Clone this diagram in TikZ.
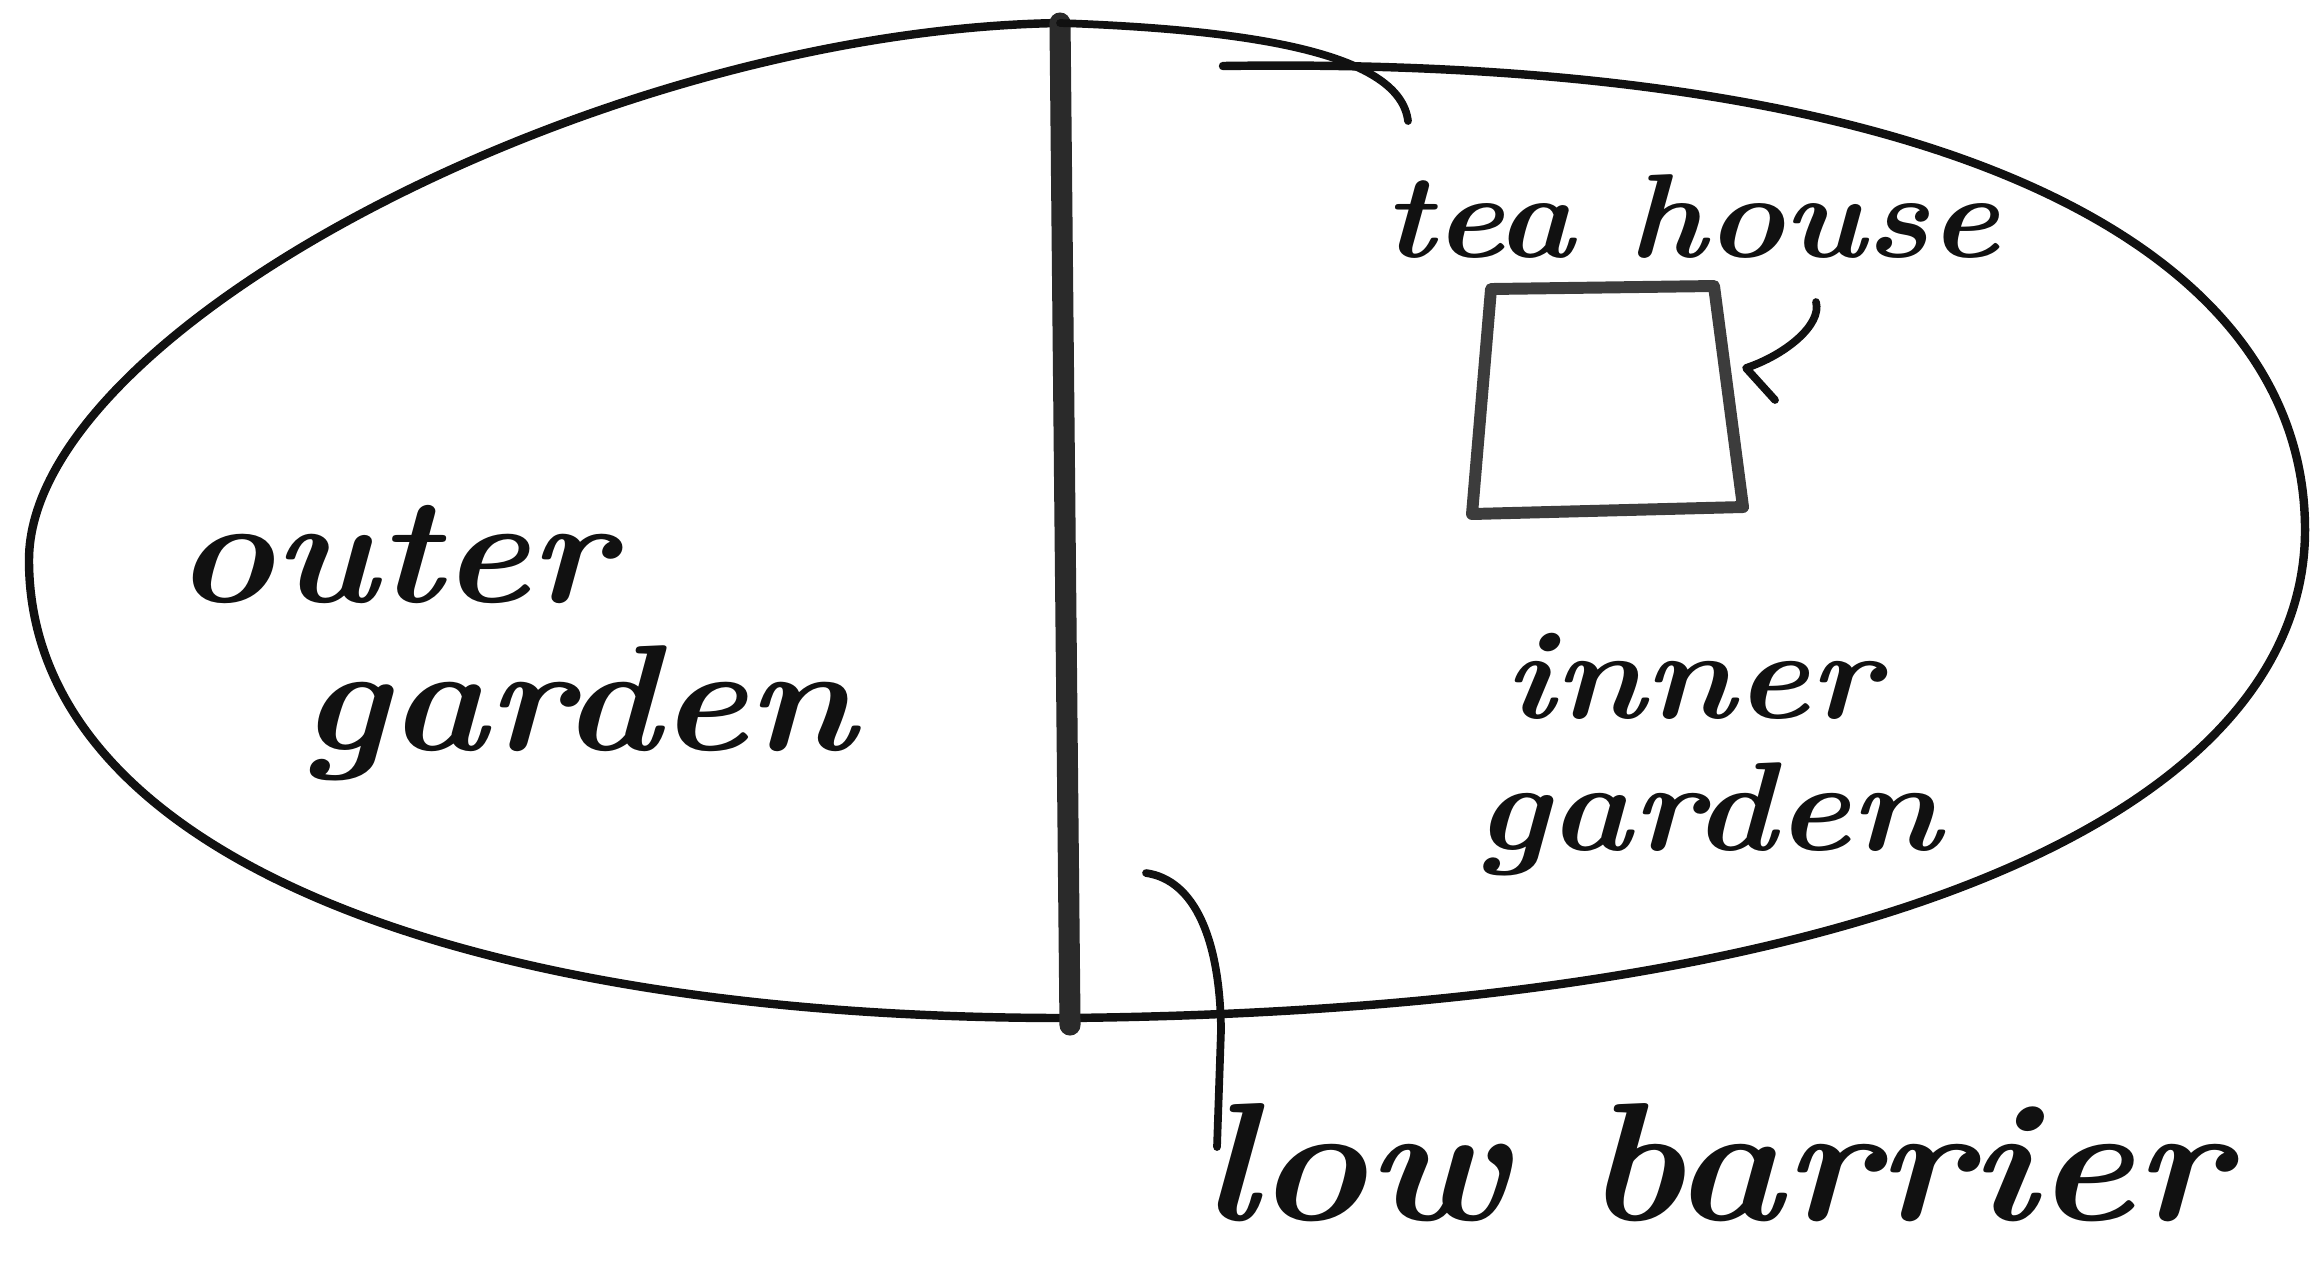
\documentclass[tikz,border=0pt]{standalone}
\usepackage{fontspec}
\usepackage{tikz}
\usepackage{graphicx}
\definecolor{pencil}{HTML}{111111}
\definecolor{barrierink}{HTML}{2A2A2A}
\definecolor{houseink}{HTML}{3C3C3C}
\newcommand{\handwrite}[2]{\scalebox{1.1}[1]{\fontsize{#1}{#1}\selectfont\bfseries\itshape #2}}
\tikzset{
  outline/.style={draw=pencil, line width=2.4pt, line cap=round},
  barrierline/.style={draw=barrierink, line width=6pt, line cap=round},
  leader/.style={draw=pencil, line width=2.2pt, line cap=round, line join=round},
  houseshape/.style={draw=houseink, line width=3.4pt, line join=round},
  handlabel/.style={inner sep=0pt, anchor=base west, text=pencil},
}

\begin{document}
\begin{tikzpicture}
    \useasboundingbox (0,0) rectangle (23.1,-12.72);
    \coordinate (bartop) at (10.60,-0.23);
    \coordinate (barbot) at (10.70,-10.25);
    \coordinate (westpt) at (0.29,-5.60);
    \coordinate (eastpt) at (23.05,-5.30);
    \coordinate (southpt) at (10.66,-10.18);
    \coordinate (northpt) at (12.23,-0.66);
    \draw[outline] (southpt) .. controls (4.50,-10.18) and (0.29,-8.50) .. (westpt)
        .. controls (0.29,-3.30) and (6.00,-0.30) .. (bartop);
    \draw[outline] (northpt) .. controls (19.5,-0.55) and (23.05,-2.5) .. (eastpt)
        .. controls (23.05,-8.0) and (19.0,-10.10) .. (southpt);
    \draw[barrierline] (bartop) -- (barbot);
    \coordinate (hsnw) at (14.91,-2.89);
    \coordinate (hsne) at (17.14,-2.86);
    \coordinate (hsse) at (17.43,-5.07);
    \coordinate (hssw) at (14.72,-5.14);
    \draw[houseshape] (hsnw) -- (hsne) -- (hsse) -- (hssw) -- cycle;
    \node[handlabel] (outerlbl) at (1.75,-6.02) {\handwrite{43}{outer}};
    \node[handlabel] (outergdn) at (3.00,-7.50) {\handwrite{43}{garden}};
    \node[handlabel] (innerlbl) at (15.04,-7.18) {\handwrite{36}{inner}};
    \node[handlabel] (innergdn) at (14.75,-8.50) {\handwrite{36}{garden}};
    \node[handlabel] (tealbl) at (13.83,-2.57) {\handwrite{34}{tea house}};
    \node[handlabel] (lowlbl) at (12.01,-12.20) {\handwrite{48}{low barrier}};
    \coordinate (teatip) at (14.08,-1.21);
    \draw[leader] (bartop) .. controls (12.6,-0.30) and (14.0,-0.55) .. (teatip);
    \coordinate (arrowtail) at (18.16,-3.02);
    \coordinate (arrowtip) at (17.46,-3.68);
    \coordinate (arrowbarb) at (17.75,-4.00);
    \draw[leader] (arrowtail) .. controls (18.22,-3.25) and (17.85,-3.55) .. (arrowtip) -- (arrowbarb);
    \coordinate (barhook) at (11.46,-8.73);
    \coordinate (barfoot) at (12.17,-11.47);
    \draw[leader] (barhook) .. controls (11.95,-8.80) and (12.20,-9.40) .. (12.21,-10.30) -- (barfoot);
\end{tikzpicture}
\end{document}
